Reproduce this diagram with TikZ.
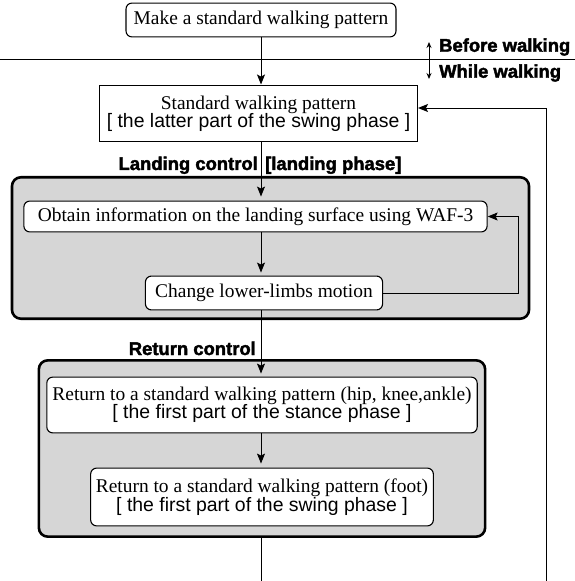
\documentclass[tikz,border=0pt]{standalone}
\usepackage{fontspec}
\setmainfont{Liberation Serif}
\newfontfamily\hsans{Liberation Sans}
\newfontfamily\hvy{Liberation Sans}[BoldFeatures={FakeBold=2.2}]
\usetikzlibrary{arrows.meta}
\begin{document}
\begin{tikzpicture}[x=1bp,y=-1bp,
  every node/.style={font=\fontsize{19.5}{18.5}\selectfont, inner sep=0pt, align=center},
  rbox/.style={draw, line width=1.1pt, rounded corners=6, fill=white},
  sbox/.style={draw, line width=1.2pt, fill=white},
  grp/.style={draw, line width=2.6pt, rounded corners=9, fill=black!16},
  arr/.style={-{Stealth[length=10pt,width=8pt,inset=2pt]}, line width=1pt},
  lab/.style={font=\hvy\bfseries\fontsize{18.5}{18.5}\selectfont}
]
\useasboundingbox (0,0) rectangle (575,581);
% groups
\node[grp, minimum width=519, minimum height=142] (landing) at (270.5,248) {};
\node[grp, minimum width=448, minimum height=177] (retgrp) at (262,448.5) {};
% boxes
\node[rbox, minimum width=271, minimum height=34] (make) at (261,20) {Make a standard walking pattern};
\node[sbox, minimum width=319, minimum height=57] (std) at (258.5,113.5) {Standard walking pattern\\{\hsans [ the latter part of the swing phase ]}};
\node[rbox, minimum width=465, minimum height=31] (obtain) at (255.5,216.5) {Obtain information on the landing surface using WAF-3};
\node[rbox, minimum width=238, minimum height=34] (change) at (264,293) {Change lower-limbs motion};
\node[rbox, minimum width=432, minimum height=56] (ret1) at (262,405) {Return to a standard walking pattern (hip, knee,ankle)\\{\hsans [ the first part of the stance phase ]}};
\node[rbox, minimum width=344, minimum height=58] (ret2) at (262,497) {Return to a standard walking pattern (foot)\\{\hsans [ the first part of the swing phase ]}};
% labels
\node[lab, anchor=base east] (lctl) at (258,170) {Landing control};
\node[lab, anchor=base west] (lph) at (265,170) {[landing phase]};
\node[lab, anchor=base east] (rctl) at (256,355) {Return control};
% separator
\coordinate (sepL) at (0,60);
\coordinate (sepR) at (575,60);
\draw[line width=1pt] (sepL) -- (sepR);
\coordinate (bwT) at (429,42);
\coordinate (bwB) at (429,79);
\draw[{Stealth[length=6pt,width=5pt]}-{Stealth[length=6pt,width=5pt]}, line width=0.9pt] (bwT) -- (bwB);
\node[lab, anchor=west] (before) at (439,47) {Before walking};
\node[lab, anchor=west] (while) at (439,73) {While walking};
% main flow
\draw[arr] (make.south) -- (std.north -| make.south);
\draw[arr, shorten >=4pt] (std.south -| make.south) -- (obtain.north -| make.south);
\draw[arr, shorten >=3pt] (obtain.south -| make.south) -- (change.north -| make.south);
\draw[arr, shorten >=3pt] (change.south -| make.south) -- (ret1.north -| make.south);
\draw[arr, shorten >=4pt] (ret1.south -| make.south) -- (ret2.north -| make.south);
\coordinate (bottomC) at (261,581);
\draw[line width=1pt] (retgrp.south -| make.south) -- (bottomC);
% outer feedback
\coordinate (fbB) at (546,581);
\coordinate (fbT) at (546,108);
\draw[arr] (fbB) -- (fbT) -- (fbT -| std.east);
% inner feedback
\coordinate (lfX) at (518,0);
\draw[arr] (change.east) -- (change.east -| lfX) -- (obtain.east -| lfX) -- (obtain.east);
\end{tikzpicture}
\end{document}
